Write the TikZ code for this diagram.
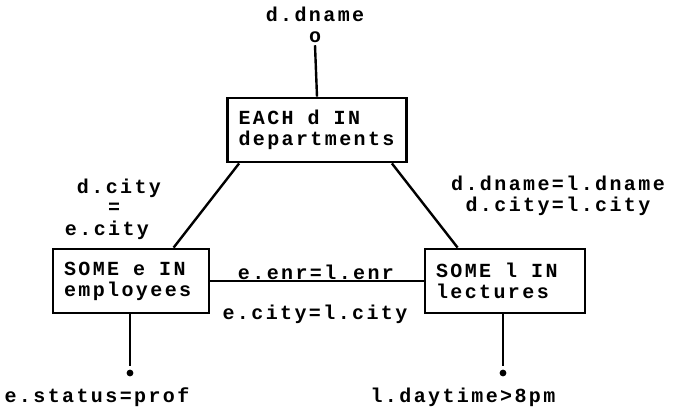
\documentclass[tikz,border=0pt]{standalone}
\usepackage{fontspec}
\setmonofont{Liberation Mono}[LetterSpace=12]
\usepackage{tikz}
\newcommand{\tgap}{\hspace{14pt}}

\begin{document}
\begin{tikzpicture}[x=1pt,y=-1pt,line width=2.4pt]
		\useasboundingbox (0,0) rectangle (675,410);
		\tikzstyle{every node}=[rectangle, draw, line width=2.8pt, align=left,
			inner xsep=11pt, inner ysep=3pt, minimum height=64pt,
			font=\fontsize{20}{21}\selectfont\ttfamily\bfseries]
			\node[text width=157pt] (dept) at (317,130) {EACH\tgap d\tgap IN\\departments};
			\node[text width=134pt] (emp) at (131,281) {SOME\tgap e\tgap IN\\employees};
			\node[text width=138pt] (lect) at (505,281) {SOME\tgap l\tgap IN\\lectures};

				\begin{scope}[nodes = {draw = none, align = center, minimum height = 0pt, inner sep = 1pt}]
					\node (dname) at (315,25) {d.dname\\o};
					\node (cityd) at (119,188) {d.city};
					\node (cityeq) at (114,208) {=};
					\node (citye) at (107,230) {e.city};
					\node (dl) at (558,196) {d.dname=l.dname\\d.city=l.city};
					\node (enr) at (316,272) {e.enr=l.enr};
					\node (cityl) at (315,314) {e.city=l.city};
					\node (status) at (97,397) {e.status=prof};
					\node (daytime) at (463,397) {l.daytime>8pm};
				\end{scope}

				\coordinate (a1) at (130,366);
				\coordinate (a2) at (503,366);

				% connectors
				\draw (dept.south west) ++(13,0) -- ([xshift=122pt]emp.north west);
				\draw (dept.south east) ++(-16,0) -- ([xshift=34pt]lect.north west);
				\draw (dname.south) -- (dept.north);
				\draw (emp) -- (lect);
				\draw (emp.south -| a1) -- (a1);
				\draw (lect.south -| a2) -- (a2);
				\fill (a1) ++(0,7) circle (3.4pt);
				\fill (a2) ++(0,7) circle (3.4pt);

		\end{tikzpicture}
\end{document}
